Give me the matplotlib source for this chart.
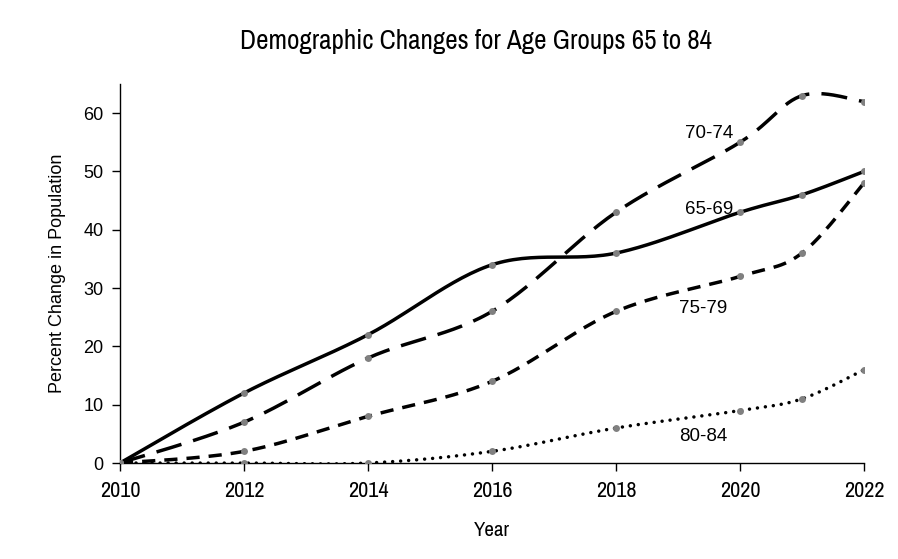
import matplotlib
matplotlib.use('Agg')
import matplotlib.pyplot as plt
from matplotlib import font_manager
import numpy as np

# Data
years = [2010, 2012, 2014, 2016, 2018, 2020, 2021, 2022]
g65_69 = [0, 12, 22, 34, 36, 43, 46, 50]
g70_74 = [0, 7, 18, 26, 43, 55, 63, 62]
g75_79 = [0, 2, 8, 14, 26, 32, 36, 48]
g80_84 = [0, 0, 0, 2, 6, 9, 11, 16]
series_names = ['65-69', '70-74', '75-79', '80-84']

names = {f.name for f in font_manager.fontManager.ttflist}
cond = sorted(n for n in names if 'Narrow' in n or 'Condensed' in n)
narrow = cond[0] if cond else 'Roboto'
regular = 'Liberation Sans'


def smooth(x, y, n=30):
    """Excel-like smoothed line: cubic Bezier with Catmull-Rom control points."""
    x = np.asarray(x, float)
    y = np.asarray(y, float)
    px = np.concatenate([[x[0]], x, [x[-1]]])
    py = np.concatenate([[y[0]], y, [y[-1]]])
    t = np.linspace(0, 1, n)
    xs, ys = [], []
    for i in range(1, len(px) - 2):
        p0 = np.array([px[i], py[i]])
        p3 = np.array([px[i + 1], py[i + 1]])
        c1 = p0 + (np.array([px[i + 1], py[i + 1]]) - np.array([px[i - 1], py[i - 1]])) / 6
        c2 = p3 - (np.array([px[i + 2], py[i + 2]]) - np.array([px[i], py[i]])) / 6
        b = (np.outer((1 - t) ** 3, p0) + np.outer(3 * (1 - t) ** 2 * t, c1)
             + np.outer(3 * (1 - t) * t ** 2, c2) + np.outer(t ** 3, p3))
        xs.append(b[:, 0])
        ys.append(b[:, 1])
    return np.concatenate(xs), np.concatenate(ys)


fig = plt.figure(figsize=(8.98, 5.59), dpi=100)
ax = fig.add_axes([0.1336, 0.1717, 0.8285, 0.678])

lw = 2.5
styles = [
    dict(linestyle='-'),
    dict(linestyle=(0, (7.5, 3.5))),
    dict(linestyle=(0, (3.8, 2.6))),
    dict(linestyle=(0, (0.01, 2.3)), dash_capstyle='round'),
]
all_series = [g65_69, g70_74, g75_79, g80_84]
for vals, st in zip(all_series, styles):
    sx, sy = smooth(years, vals)
    ax.plot(sx, sy, color='black', lw=lw, zorder=2, **st)
    ax.plot(years, vals, 'o', color='#808080', markersize=5, zorder=3,
            markeredgewidth=0)

# Series labels
label_pos = [(2019.5, 56.5), (2019.5, 56.5), (2019.4, 26.5), (2019.4, 4.6)]
label_pos[0] = (2019.5, 43.5)
for name, (lx, ly) in zip(series_names, label_pos):
    ax.text(lx, ly, name, fontsize=13.5, family=regular, ha='center', va='center')

ax.set_xlim(2010, 2022)
ax.set_ylim(0, 65)
ax.set_xticks(range(2010, 2023, 2))
ax.set_yticks(range(0, 61, 10))
for s in ['top', 'right']:
    ax.spines[s].set_visible(False)
for s in ['left', 'bottom']:
    ax.spines[s].set_linewidth(1.0)
ax.tick_params(direction='out', length=6, width=1.0)
ax.tick_params(axis='x', pad=7)
ax.tick_params(axis='y', pad=6)
for lab in ax.get_xticklabels():
    lab.set_fontfamily(narrow)
    lab.set_fontsize(16)
for lab in ax.get_yticklabels():
    lab.set_fontfamily(regular)
    lab.set_fontsize(13)

ax.set_ylabel('Percent Change in Population', fontsize=13, family=regular, labelpad=12)
ax.set_xlabel('Year', fontsize=15, family=narrow, labelpad=14)
fig.text(0.53, 0.925, 'Demographic Changes for Age Groups 65 to 84',
         fontsize=19.5, family=narrow, ha='center', va='center')

plt.savefig('out.png', dpi=100)
plt.close()
